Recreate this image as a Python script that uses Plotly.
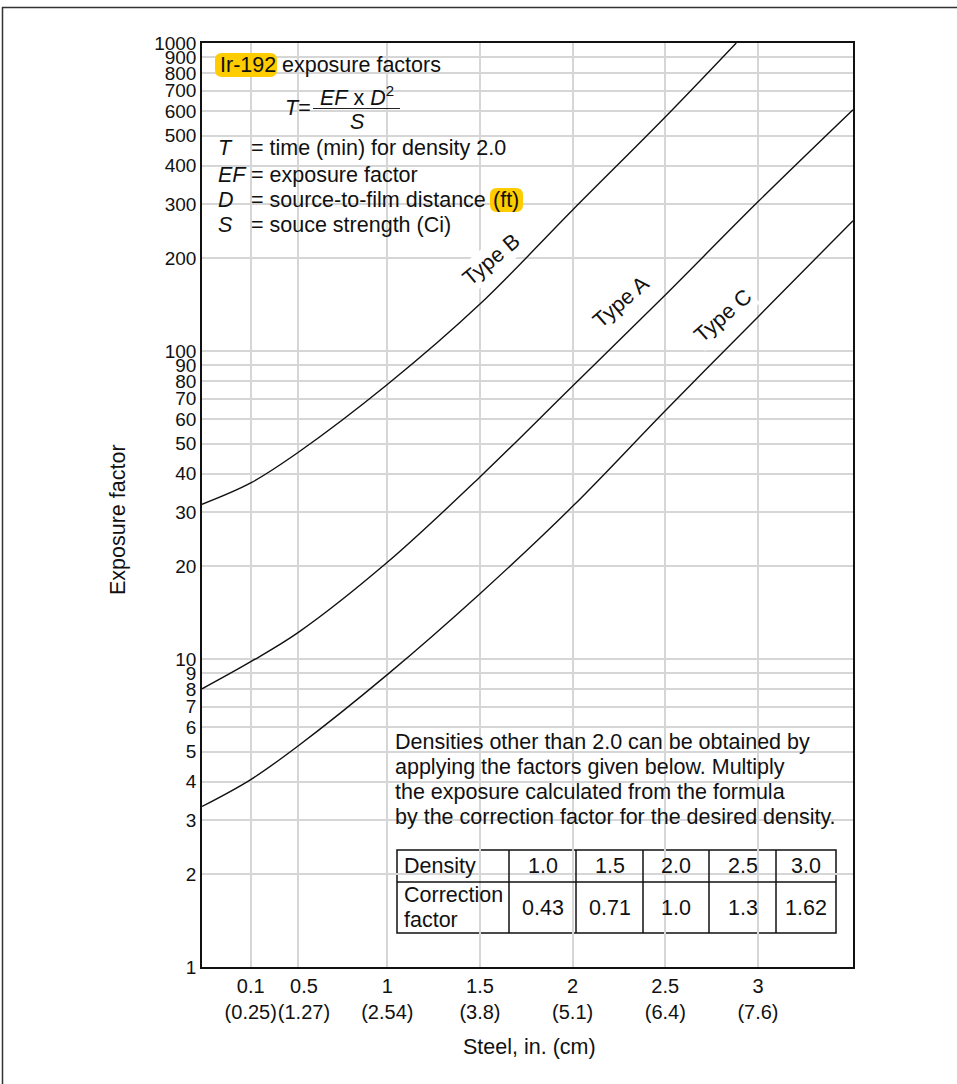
import plotly.graph_objects as go

# ---------------- data ----------------
steel_b = [0.0, 0.263, 0.52, 1.0, 1.5, 2.0, 2.5, 2.883]
ef_type_b = [31.8, 37.3, 46.9, 77.8, 142, 287, 575, 1000]

steel_a = [0.0, 0.263, 0.52, 1.0, 1.5, 2.0, 2.5, 3.0, 3.513]
ef_type_a = [8.0, 9.8, 12.2, 20.6, 39.0, 77.0, 152, 305, 607]

steel_c = [0.0, 0.263, 0.52, 1.0, 1.5, 2.0, 2.5, 3.0, 3.513]
ef_type_c = [3.32, 4.06, 5.23, 8.9, 16.3, 31.3, 64, 129, 265]

x_tick_pos = [0.263, 0.52, 1.0, 1.5, 2.0, 2.5, 3.0]
x_tick_in = ["0.1", "0.5", "1", "1.5", "2", "2.5", "3"]
x_tick_cm = ["(0.25)", "(1.27)", "(2.54)", "(3.8)", "(5.1)", "(6.4)", "(7.6)"]

y_tick_vals = [1, 2, 3, 4, 5, 6, 7, 8, 9, 10, 20, 30, 40, 50, 60, 70, 80, 90,
               100, 200, 300, 400, 500, 600, 700, 800, 900, 1000]

densities = ["1.0", "1.5", "2.0", "2.5", "3.0"]
correction_factors = ["0.43", "0.71", "1.0", "1.3", "1.62"]

# ---------------- layout helpers (page pixel coordinates) ----------------
W, H = 957, 1084
L, R, T, B = 202, 853, 43, 967
FONT = "Liberation Sans, Arial, Helvetica, sans-serif"
TXT = "#111111"
YEL = "#FFCC00"
FS = 21.5
NB = "\u00a0"


def px(x):
    return (x - L) / (R - L)


def py(y):
    return (B - y) / (B - T)


def rrect(x0, y0, x1, y1, r):
    return (f"M {px(x0 + r)},{py(y0)} L {px(x1 - r)},{py(y0)} "
            f"Q {px(x1)},{py(y0)} {px(x1)},{py(y0 + r)} L {px(x1)},{py(y1 - r)} "
            f"Q {px(x1)},{py(y1)} {px(x1 - r)},{py(y1)} L {px(x0 + r)},{py(y1)} "
            f"Q {px(x0)},{py(y1)} {px(x0)},{py(y1 - r)} L {px(x0)},{py(y0 + r)} "
            f"Q {px(x0)},{py(y0)} {px(x0 + r)},{py(y0)} Z")


fig = go.Figure()
for xs, ys in [(steel_b, ef_type_b), (steel_a, ef_type_a), (steel_c, ef_type_c)]:
    fig.add_trace(go.Scatter(x=xs, y=ys, mode="lines",
                             line=dict(color="#111", width=1.4, shape="spline", smoothing=1.0),
                             showlegend=False, hoverinfo="skip", cliponaxis=True))

shapes = []
annots = []


def text(x, y, s, size=FS, xanchor="left", angle=0, bg=None):
    d = dict(x=px(x), y=py(y), xref="paper", yref="paper", text=s, showarrow=False,
             xanchor=xanchor, yanchor="middle", textangle=angle,
             font=dict(family=FONT, size=size, color=TXT))
    if bg:
        d["bgcolor"] = bg
        d["borderpad"] = 2
    annots.append(d)


def wrect(x0, y0, x1, y1, line=None, layer="between"):
    shapes.append(dict(type="rect", xref="paper", yref="paper",
                       x0=px(x0), x1=px(x1), y0=py(y1), y1=py(y0),
                       fillcolor="white", layer=layer,
                       line=dict(width=line or 0, color="#111")))


def hline(x0, x1, y, w=1.5):
    shapes.append(dict(type="line", xref="paper", yref="paper", x0=px(x0), x1=px(x1),
                       y0=py(y), y1=py(y), line=dict(color="#111", width=w), layer="above"))


def vline(x, y0, y1, w=1.5):
    shapes.append(dict(type="line", xref="paper", yref="paper", x0=px(x), x1=px(x),
                       y0=py(y0), y1=py(y1), line=dict(color="#111", width=w), layer="above"))


# white background boxes hiding gridlines
wrect(203, 50, 530, 240)
wrect(380, 720, 841, 839)

# yellow highlights
shapes.append(dict(type="path", xref="paper", yref="paper", path=rrect(215, 53, 277, 77, 7),
                   fillcolor=YEL, line=dict(width=0), layer="above"))
shapes.append(dict(type="path", xref="paper", yref="paper", path=rrect(490, 188, 523, 212, 7),
                   fillcolor=YEL, line=dict(width=0), layer="above"))

# title block
text(218, 65, "Ir-192")
text(280, 65, "exposure factors")
text(313, 108, "<i>T</i>=", xanchor="right")
text(357, 96, "<i>EF</i> x <i>D</i><sup>2</sup>", xanchor="center")
text(357, 122, "<i>S</i>", xanchor="center")
shapes.append(dict(type="line", xref="paper", yref="paper", x0=px(313), x1=px(400),
                   y0=py(108.5), y1=py(108.5), line=dict(color="#222", width=1), layer="above"))
text(216, 148, "<i>T</i>")
text(249, 148, "= time (min) for density 2.0")
text(216, 175, "<i>EF</i>")
text(249, 175, "= exposure factor")
text(216, 200, "<i>D</i>")
text(249, 200, "= source-to-film distance")
text(491, 200, "(ft)")
text(216, 225, "<i>S</i>")
text(249, 225, "= souce strength (Ci)")

# curve labels
text(491, 260, "Type B", xanchor="center", angle=-40, bg="white")
text(621, 302, "Type A", xanchor="center", angle=-41, bg="white")
text(723, 316, "Type C", xanchor="center", angle=-41, bg="white")

# paragraph
para = ["Densities other than 2.0 can be obtained by",
        "applying the factors given below. Multiply",
        "the exposure calculated from the formula",
        "by the correction factor for the desired density."]
for i, line in enumerate(para):
    text(393, 742 + 25 * i, line)

# table
tx0, tx1, ty0, tmid, ty1 = 397, 836, 850, 882, 933
col_edges = [tx0, 509, 576, 643, 709, 776, tx1]
wrect(tx0, ty0, tx1, ty1, line=1.5)
hline(tx0, tx1, tmid)
for cx in col_edges[1:-1]:
    vline(cx, ty0, ty1)
text(402, 866, "Density")
text(402, 895, "Correction")
text(402, 920, "factor")
for i, (d, c) in enumerate(zip(densities, correction_factors)):
    cxm = (col_edges[i + 1] + col_edges[i + 2]) / 2
    text(cxm, 866, d, xanchor="center")
    text(cxm, 908, c, xanchor="center")

# axis titles
text(118, 520, "Exposure factor", xanchor="center", angle=-90)
text(529, 1047, "Steel, in. (cm)", xanchor="center")

# outer frame
shapes.append(dict(type="rect", xref="paper", yref="paper", x0=px(2.5), x1=px(1100),
                   y0=py(1300), y1=py(7.5), line=dict(color="#333", width=1.5),
                   fillcolor="rgba(0,0,0,0)", layer="above"))

x_ticktext = []
for i, (a, b) in enumerate(zip(x_tick_in, x_tick_cm)):
    pad = NB * 2 if i == 1 else ""
    x_ticktext.append(f"{pad}{a}<br>{pad}{b}")

fig.update_layout(
    width=W, height=H,
    margin=dict(l=L, r=W - R, t=T, b=H - B, pad=0),
    paper_bgcolor="white", plot_bgcolor="white",
    font=dict(family=FONT, size=20, color=TXT),
    shapes=shapes, annotations=annots, showlegend=False,
    xaxis=dict(range=[0, 3.513], tickmode="array", tickvals=x_tick_pos,
               ticktext=x_ticktext, tickangle=0,
               showgrid=True, gridcolor="#d6d6d6", gridwidth=1.5, zeroline=False,
               showline=True, mirror=True, linecolor="#111", linewidth=1.5,
               ticks="", tickfont=dict(size=20)),
    yaxis=dict(type="log", range=[0, 3], tickmode="array", tickvals=y_tick_vals,
               ticktext=[str(v) for v in y_tick_vals],
               showgrid=True, gridcolor="#d6d6d6", gridwidth=1.5, zeroline=False,
               showline=True, mirror=True, linecolor="#111", linewidth=1.5,
               ticks="", tickfont=dict(size=19)),
)

fig.write_html("out.html", config={"displayModeBar": False},
               post_script="document.body.style.margin='0';")
